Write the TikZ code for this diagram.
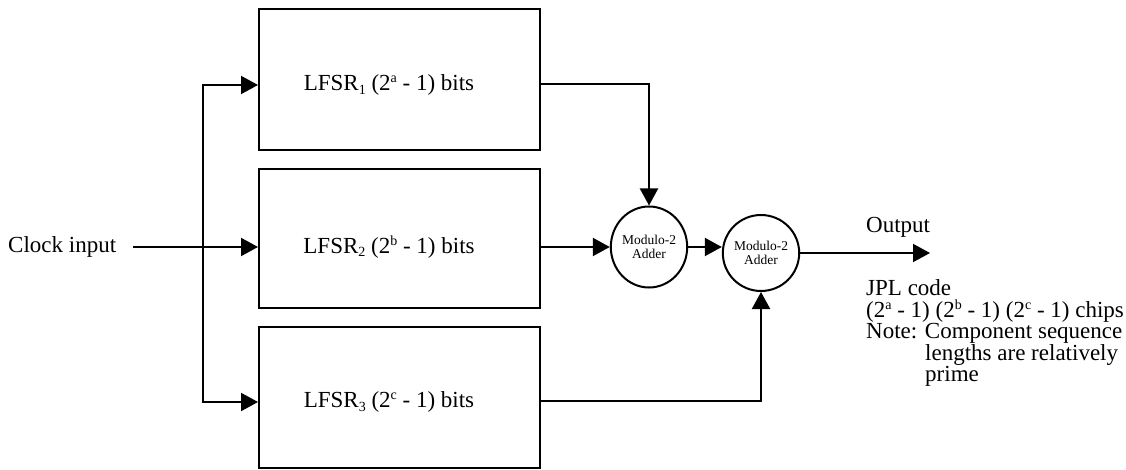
\documentclass[tikz,border=0pt]{standalone}
\usepackage{fontspec}
\setmainfont{Liberation Serif}
\usetikzlibrary{arrows.meta,shapes.geometric}

% small raised and lowered indices
\newcommand{\supx}[1]{\raisebox{8pt}{\fontsize{14}{14}\selectfont #1}}
\newcommand{\subx}[1]{\raisebox{-3.5pt}{\fontsize{14}{14}\selectfont #1}}

\tikzset{
  wire/.style={line width=2pt},
  arr/.style={wire,-{Triangle[length=17pt,width=18pt]}},
  regbox/.style={draw,line width=2pt,minimum width=281pt,inner sep=0pt},
  adder/.style={draw,ellipse,line width=2pt,minimum width=72pt,inner sep=0pt,
    align=center,font=\fontsize{13.5}{14.5}\selectfont},
  txt/.style={inner sep=0pt,font=\fontsize{23}{21.5}\selectfont},
}

\begin{document}
\begin{tikzpicture}[x=1pt,y=-1pt]
\useasboundingbox (0,0) rectangle (1126,470);

% shift registers
\node[regbox,minimum height=141pt] (b1) at (399.5,79.5) {};
\node[regbox,minimum height=139pt] (b2) at (399.5,238.5) {};
\node[regbox,minimum height=141pt] (b3) at (399.5,397.5) {};

\node[txt] (l1) at (389,85) {LFSR\subx{1} (2\supx{a} - 1) bits};
\node[txt] (l2) at (389,247) {LFSR\subx{2} (2\supx{b} - 1) bits};
\node[txt] (l3) at (389,402) {LFSR\subx{3} (2\supx{c} - 1) bits};

% modulo-2 adders
\node[adder,minimum height=81pt] (m1) at (649,247) {Modulo-2\\Adder};
\node[adder,minimum height=76pt] (m2) at (761,253) {Modulo-2\\Adder};

% clock distribution
\node[txt,anchor=base west] (clk) at (8,253) {Clock input};
\coordinate (split) at (203,247);
\coordinate (in1) at ([yshift=-5.5pt]b1.west);
\coordinate (in2) at ([yshift=-8.5pt]b2.west);
\coordinate (in3) at ([yshift=-4.5pt]b3.west);
\coordinate (clkend) at (133,247);
\draw[wire] (clkend) -- (split);
\draw[arr] (split) -- (in2);
\draw[arr] (split) |- (in1);
\draw[arr] (split) |- (in3);

% register outputs into the adders
\draw[arr] ([yshift=-4.5pt]b1.east) -| (m1.north);
\draw[arr] (b2.east |- m1.west) -- (m1.west);
\draw[arr] (m1.east) -- (m1.east -| m2.west);
\draw[arr] ([yshift=-3pt]b3.east) -| (m2.south);

% output
\coordinate (outend) at (930,253);
\draw[arr] (m2.east) -- (outend);
\node[txt,anchor=base west] (outl) at (866,233) {Output};
\node[txt,anchor=base west] (jpl) at (866,295) {JPL code};
\node[txt,anchor=base west] (chips) at (866,317)
  {(2\supx{a} - 1) (2\supx{b} - 1) (2\supx{c} - 1) chips};
\node[txt,anchor=base west] (note) at (866,338) {Note: Component sequence};
\node[txt,anchor=base west] (note2) at (925,360) {lengths are relatively};
\node[txt,anchor=base west] (note3) at (925,381) {prime};
\end{tikzpicture}
\end{document}
